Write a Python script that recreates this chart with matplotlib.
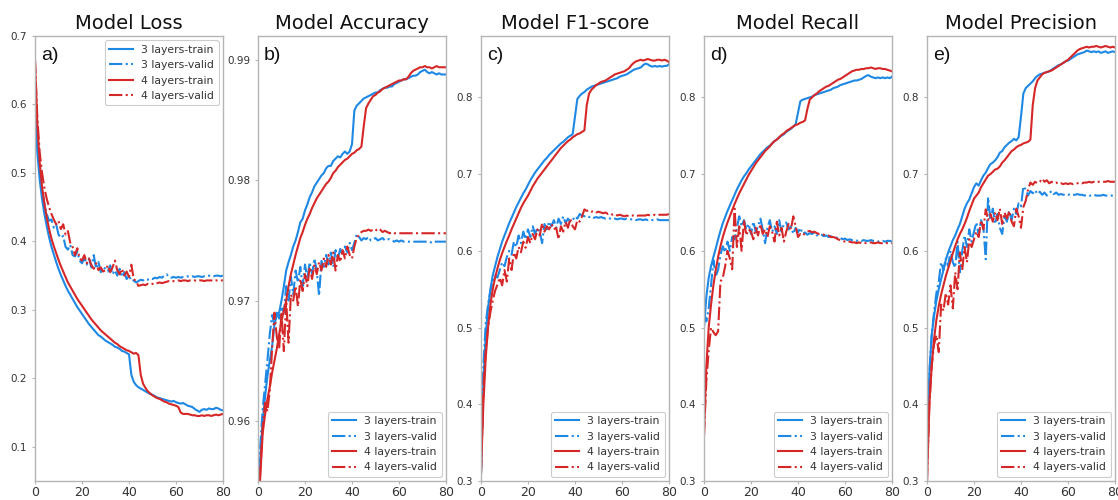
#!/usr/bin/env python3
# Krzywe uczenia: 3 vs 4 warstwy, train/valid, pięć metryk obok siebie

import matplotlib.pyplot as plt
import numpy as np


BLUE = "#1E88E5"
RED = "#D62728"
SPINE = "#b5b5b5"
TXT = "#333333"

EPOCHS = np.arange(81)

# --- a) loss ---
loss_3_train = [
    0.600, 0.530, 0.490, 0.462, 0.440, 0.422, 0.406, 0.392, 0.381, 0.370,
    0.360, 0.351, 0.343, 0.335, 0.328, 0.322, 0.316, 0.310, 0.304, 0.299,
    0.294, 0.289, 0.284, 0.279, 0.275, 0.271, 0.267, 0.263, 0.261, 0.258,
    0.255, 0.253, 0.251, 0.249, 0.246, 0.245, 0.243, 0.240, 0.239, 0.237,
    0.235, 0.205, 0.195, 0.190, 0.187, 0.185, 0.183, 0.181, 0.179, 0.177,
    0.176, 0.174, 0.172, 0.171, 0.170, 0.169, 0.168, 0.167, 0.166, 0.167,
    0.165, 0.164, 0.163, 0.164, 0.162, 0.160, 0.159, 0.158, 0.155, 0.153,
    0.151, 0.154, 0.155, 0.154, 0.156, 0.155, 0.155, 0.157, 0.156, 0.154,
    0.153,
]
loss_3_valid = [
    0.600, 0.540, 0.500, 0.475, 0.455, 0.440, 0.430, 0.432, 0.420, 0.425,
    0.410, 0.405, 0.408, 0.392, 0.388, 0.395, 0.380, 0.378, 0.385, 0.372,
    0.368, 0.376, 0.366, 0.375, 0.362, 0.380, 0.360, 0.370, 0.355, 0.362,
    0.360, 0.356, 0.365, 0.352, 0.358, 0.350, 0.360, 0.348, 0.355, 0.345,
    0.350, 0.342, 0.343, 0.340, 0.342, 0.344, 0.343, 0.345, 0.344, 0.346,
    0.345, 0.347, 0.346, 0.348, 0.347, 0.350, 0.352, 0.348, 0.347, 0.348,
    0.347, 0.348, 0.347, 0.348, 0.348, 0.349, 0.348, 0.349, 0.348, 0.349,
    0.349, 0.348, 0.349, 0.349, 0.350, 0.349, 0.349, 0.350, 0.350, 0.349,
    0.350,
]
loss_4_train = [
    0.665, 0.570, 0.515, 0.480, 0.455, 0.435, 0.418, 0.404, 0.393, 0.383,
    0.373, 0.364, 0.356, 0.348, 0.340, 0.334, 0.328, 0.322, 0.316, 0.311,
    0.306, 0.301, 0.296, 0.291, 0.286, 0.282, 0.278, 0.274, 0.270, 0.267,
    0.264, 0.261, 0.258, 0.255, 0.252, 0.250, 0.247, 0.245, 0.243, 0.241,
    0.240, 0.238, 0.236, 0.237, 0.234, 0.205, 0.192, 0.186, 0.181, 0.178,
    0.175, 0.173, 0.171, 0.170, 0.168, 0.166, 0.165, 0.163, 0.162, 0.161,
    0.160, 0.158, 0.150, 0.148, 0.148, 0.148, 0.147, 0.146, 0.146, 0.145,
    0.145, 0.146, 0.145, 0.146, 0.146, 0.145, 0.146, 0.147, 0.146, 0.147,
    0.148,
]
loss_4_valid = [
    0.665, 0.580, 0.530, 0.500, 0.478, 0.462, 0.450, 0.440, 0.432, 0.425,
    0.430, 0.418, 0.425, 0.410, 0.415, 0.398, 0.392, 0.380, 0.390, 0.375,
    0.372, 0.380, 0.368, 0.375, 0.365, 0.360, 0.368, 0.358, 0.362, 0.356,
    0.358, 0.365, 0.355, 0.362, 0.372, 0.358, 0.352, 0.360, 0.350, 0.356,
    0.348, 0.366, 0.345, 0.342, 0.335, 0.336, 0.337, 0.336, 0.338, 0.337,
    0.338, 0.337, 0.339, 0.340, 0.339, 0.340, 0.341, 0.342, 0.341, 0.342,
    0.342, 0.343, 0.342, 0.343, 0.343, 0.342, 0.343, 0.343, 0.343, 0.342,
    0.343, 0.343, 0.342, 0.343, 0.343, 0.343, 0.342, 0.343, 0.343, 0.343,
    0.343,
]

# --- b) accuracy ---
acc_3_train = [
    0.9530, 0.9570, 0.9600, 0.9620, 0.9637, 0.9650, 0.9662, 0.9680, 0.9688, 0.9690,
    0.9700, 0.9712, 0.9725, 0.9732, 0.9738, 0.9745, 0.9750, 0.9757, 0.9765, 0.9768,
    0.9775, 0.9780, 0.9786, 0.9790, 0.9795, 0.9798, 0.9801, 0.9804, 0.9806, 0.9810,
    0.9812, 0.9812, 0.9816, 0.9818, 0.9820, 0.9819, 0.9822, 0.9824, 0.9822, 0.9824,
    0.9830, 0.9858, 0.9862, 0.9864, 0.9866, 0.9868, 0.9869, 0.9870, 0.9871, 0.9872,
    0.9873, 0.9873, 0.9875, 0.9876, 0.9877, 0.9877, 0.9878, 0.9878, 0.9880, 0.9881,
    0.9882, 0.9883, 0.9884, 0.9884, 0.9885, 0.9886, 0.9887, 0.9887, 0.9888, 0.9890,
    0.9891, 0.9892, 0.9890, 0.9889, 0.9890, 0.9889, 0.9888, 0.9889, 0.9888, 0.9888,
    0.9888,
]
acc_3_valid = [
    0.9540, 0.9580, 0.9610, 0.9630, 0.9650, 0.9672, 0.9688, 0.9680, 0.9690, 0.9685,
    0.9695, 0.9690, 0.9712, 0.9700, 0.9720, 0.9705, 0.9725, 0.9715, 0.9728, 0.9712,
    0.9730, 0.9718, 0.9732, 0.9722, 0.9735, 0.9725, 0.9704, 0.9733, 0.9728, 0.9738,
    0.9730, 0.9740, 0.9728, 0.9742, 0.9735, 0.9743, 0.9738, 0.9745, 0.9740, 0.9748,
    0.9742, 0.9748, 0.9755, 0.9753, 0.9750, 0.9752, 0.9751, 0.9753, 0.9750, 0.9751,
    0.9752, 0.9750, 0.9751, 0.9752, 0.9750, 0.9751, 0.9751, 0.9750, 0.9749, 0.9750,
    0.9749, 0.9750, 0.9749, 0.9749, 0.9749, 0.9749, 0.9749, 0.9749, 0.9749, 0.9749,
    0.9749, 0.9749, 0.9749, 0.9749, 0.9748, 0.9749, 0.9749, 0.9749, 0.9749, 0.9749,
    0.9749,
]
acc_4_train = [
    0.9520, 0.9555, 0.9590, 0.9605, 0.9618, 0.9628, 0.9640, 0.9650, 0.9660, 0.9672,
    0.9683, 0.9692, 0.9700, 0.9712, 0.9722, 0.9730, 0.9738, 0.9745, 0.9752, 0.9757,
    0.9763, 0.9768, 0.9772, 0.9777, 0.9781, 0.9785, 0.9788, 0.9791, 0.9794, 0.9797,
    0.9799, 0.9802, 0.9806, 0.9808, 0.9811, 0.9813, 0.9815, 0.9817, 0.9818, 0.9820,
    0.9822, 0.9823, 0.9825, 0.9826, 0.9828, 0.9845, 0.9860, 0.9864, 0.9867, 0.9870,
    0.9871, 0.9873, 0.9874, 0.9876, 0.9877, 0.9878, 0.9879, 0.9880, 0.9881, 0.9882,
    0.9883, 0.9883, 0.9884, 0.9884, 0.9886, 0.9889, 0.9891, 0.9892, 0.9893, 0.9894,
    0.9894, 0.9895, 0.9894, 0.9894, 0.9893, 0.9894, 0.9895, 0.9894, 0.9894, 0.9894,
    0.9894,
]
acc_4_valid = [
    0.9520, 0.9560, 0.9595, 0.9615, 0.9608, 0.9625, 0.9660, 0.9690, 0.9670, 0.9660,
    0.9690, 0.9658, 0.9700, 0.9665, 0.9705, 0.9700, 0.9712, 0.9695, 0.9718, 0.9708,
    0.9722, 0.9712, 0.9728, 0.9718, 0.9730, 0.9722, 0.9732, 0.9725, 0.9735, 0.9728,
    0.9738, 0.9730, 0.9740, 0.9725, 0.9738, 0.9732, 0.9742, 0.9735, 0.9745, 0.9738,
    0.9735, 0.9745, 0.9752, 0.9755, 0.9757, 0.9758, 0.9758, 0.9759, 0.9758, 0.9759,
    0.9758, 0.9760, 0.9759, 0.9757, 0.9758, 0.9757, 0.9756, 0.9757, 0.9756, 0.9756,
    0.9756, 0.9756, 0.9756, 0.9756, 0.9756, 0.9756, 0.9756, 0.9756, 0.9756, 0.9756,
    0.9756, 0.9756, 0.9756, 0.9756, 0.9756, 0.9756, 0.9756, 0.9756, 0.9756, 0.9756,
    0.9756,
]

# --- c) F1-score ---
f1_3_train = [
    0.310, 0.430, 0.490, 0.525, 0.550, 0.568, 0.580, 0.592, 0.602, 0.612,
    0.620, 0.628, 0.636, 0.643, 0.650, 0.657, 0.663, 0.669, 0.675, 0.680,
    0.686, 0.692, 0.697, 0.702, 0.706, 0.710, 0.714, 0.718, 0.721, 0.725,
    0.728, 0.731, 0.734, 0.737, 0.740, 0.742, 0.745, 0.748, 0.750, 0.752,
    0.775, 0.798, 0.802, 0.805, 0.807, 0.810, 0.812, 0.814, 0.815, 0.816,
    0.817, 0.818, 0.819, 0.820, 0.821, 0.822, 0.823, 0.824, 0.825, 0.827,
    0.828, 0.829, 0.830, 0.832, 0.834, 0.836, 0.837, 0.838, 0.839, 0.842,
    0.844, 0.843, 0.841, 0.840, 0.841, 0.840, 0.841, 0.840, 0.841, 0.841,
    0.843,
]
f1_3_valid = [
    0.310, 0.450, 0.505, 0.530, 0.548, 0.560, 0.568, 0.565, 0.575, 0.585,
    0.580, 0.592, 0.600, 0.595, 0.612, 0.605, 0.620, 0.610, 0.625, 0.615,
    0.628, 0.618, 0.632, 0.622, 0.630, 0.625, 0.610, 0.635, 0.628, 0.638,
    0.632, 0.640, 0.630, 0.642, 0.635, 0.645, 0.636, 0.642, 0.638, 0.640,
    0.645, 0.642, 0.648, 0.646, 0.645, 0.646, 0.644, 0.645, 0.643, 0.644,
    0.643, 0.644, 0.643, 0.642, 0.643, 0.642, 0.643, 0.642, 0.641, 0.642,
    0.642, 0.641, 0.642, 0.641, 0.641, 0.641, 0.640, 0.641, 0.641, 0.640,
    0.641, 0.640, 0.641, 0.640, 0.640, 0.641, 0.640, 0.640, 0.640, 0.640,
    0.640,
]
f1_4_train = [
    0.310, 0.400, 0.460, 0.500, 0.530, 0.550, 0.565, 0.577, 0.588, 0.597,
    0.605, 0.613, 0.620, 0.628, 0.635, 0.642, 0.649, 0.656, 0.662, 0.667,
    0.672, 0.678, 0.684, 0.689, 0.694, 0.698, 0.702, 0.706, 0.710, 0.714,
    0.718, 0.722, 0.726, 0.730, 0.734, 0.737, 0.740, 0.743, 0.745, 0.748,
    0.750, 0.752, 0.753, 0.755, 0.757, 0.790, 0.805, 0.810, 0.813, 0.816,
    0.818, 0.820, 0.821, 0.822, 0.824, 0.826, 0.828, 0.830, 0.831, 0.832,
    0.833, 0.834, 0.836, 0.838, 0.842, 0.845, 0.847, 0.848, 0.849, 0.848,
    0.849, 0.850, 0.849, 0.848, 0.848, 0.849, 0.849, 0.848, 0.849, 0.848,
    0.846,
]
f1_4_valid = [
    0.310, 0.420, 0.470, 0.500, 0.520, 0.535, 0.548, 0.556, 0.565, 0.555,
    0.575, 0.560, 0.590, 0.575, 0.598, 0.590, 0.605, 0.598, 0.612, 0.604,
    0.618, 0.610, 0.622, 0.615, 0.628, 0.620, 0.636, 0.625, 0.632, 0.628,
    0.635, 0.628, 0.630, 0.615, 0.632, 0.625, 0.638, 0.630, 0.642, 0.632,
    0.628, 0.640, 0.638, 0.645, 0.654, 0.652, 0.653, 0.651, 0.652, 0.650,
    0.651, 0.650, 0.649, 0.650, 0.648, 0.649, 0.647, 0.648, 0.646, 0.647,
    0.646, 0.645, 0.646, 0.645, 0.646, 0.646, 0.645, 0.646, 0.646, 0.646,
    0.646, 0.647, 0.646, 0.646, 0.647, 0.646, 0.647, 0.647, 0.647, 0.647,
    0.648,
]

# --- d) recall ---
rec_3_train = [
    0.500, 0.540, 0.565, 0.580, 0.592, 0.603, 0.615, 0.626, 0.636, 0.644,
    0.652, 0.659, 0.666, 0.673, 0.680, 0.686, 0.692, 0.697, 0.701, 0.706,
    0.710, 0.714, 0.718, 0.722, 0.726, 0.729, 0.732, 0.735, 0.737, 0.740,
    0.743, 0.745, 0.748, 0.750, 0.752, 0.755, 0.757, 0.759, 0.762, 0.765,
    0.780, 0.795, 0.797, 0.798, 0.799, 0.800, 0.801, 0.803, 0.804, 0.805,
    0.806, 0.807, 0.808, 0.809, 0.810, 0.812, 0.813, 0.814, 0.816, 0.817,
    0.818, 0.819, 0.820, 0.821, 0.822, 0.822, 0.823, 0.824, 0.826, 0.828,
    0.829, 0.827, 0.826, 0.825, 0.826, 0.825, 0.826, 0.825, 0.826, 0.825,
    0.827,
]
rec_3_valid = [
    0.520, 0.508, 0.525, 0.555, 0.588, 0.567, 0.575, 0.595, 0.606, 0.598,
    0.612, 0.600, 0.618, 0.615, 0.630, 0.645, 0.632, 0.640, 0.628, 0.635,
    0.622, 0.638, 0.625, 0.632, 0.642, 0.628, 0.610, 0.630, 0.640, 0.625,
    0.632, 0.622, 0.640, 0.625, 0.635, 0.637, 0.628, 0.632, 0.622, 0.630,
    0.624, 0.630, 0.622, 0.624, 0.621, 0.623, 0.622, 0.624, 0.620, 0.622,
    0.621, 0.619, 0.620, 0.618, 0.619, 0.617, 0.618, 0.616, 0.617, 0.615,
    0.616, 0.614, 0.615, 0.614, 0.614, 0.613, 0.614, 0.613, 0.614, 0.613,
    0.613, 0.614, 0.613, 0.613, 0.612, 0.613, 0.613, 0.612, 0.613, 0.613,
    0.612,
]
rec_4_train = [
    0.360, 0.450, 0.500, 0.530, 0.555, 0.575, 0.592, 0.606, 0.618, 0.628,
    0.637, 0.645, 0.653, 0.661, 0.668, 0.675, 0.681, 0.687, 0.693, 0.699,
    0.704, 0.709, 0.714, 0.718, 0.722, 0.726, 0.730, 0.733, 0.736, 0.740,
    0.743, 0.745, 0.748, 0.751, 0.753, 0.756, 0.758, 0.760, 0.762, 0.764,
    0.765, 0.767, 0.768, 0.770, 0.785, 0.797, 0.800, 0.803, 0.805, 0.808,
    0.810, 0.812, 0.814, 0.815, 0.817, 0.819, 0.821, 0.823, 0.824, 0.826,
    0.828, 0.830, 0.832, 0.834, 0.835, 0.836, 0.836, 0.837, 0.837, 0.838,
    0.838, 0.839, 0.838, 0.837, 0.838, 0.838, 0.837, 0.837, 0.836, 0.835,
    0.834,
]
rec_4_valid = [
    0.360, 0.430, 0.470, 0.500, 0.494, 0.490, 0.495, 0.560, 0.565, 0.580,
    0.600, 0.590, 0.576, 0.655, 0.605, 0.632, 0.600, 0.640, 0.620, 0.628,
    0.625, 0.615, 0.630, 0.620, 0.635, 0.622, 0.628, 0.618, 0.632, 0.625,
    0.612, 0.638, 0.620, 0.630, 0.612, 0.625, 0.635, 0.628, 0.645, 0.632,
    0.618, 0.622, 0.620, 0.623, 0.625, 0.626, 0.624, 0.625, 0.623, 0.622,
    0.622, 0.621, 0.620, 0.620, 0.618, 0.618, 0.617, 0.615, 0.614, 0.613,
    0.612, 0.611, 0.612, 0.611, 0.611, 0.610, 0.611, 0.610, 0.611, 0.610,
    0.610, 0.611, 0.610, 0.610, 0.611, 0.610, 0.610, 0.611, 0.610, 0.610,
    0.610,
]

# --- e) precision ---
prec_3_train = [
    0.330, 0.440, 0.490, 0.515, 0.535, 0.550, 0.563, 0.575, 0.588, 0.598,
    0.606, 0.614, 0.620, 0.628, 0.635, 0.645, 0.655, 0.662, 0.667, 0.675,
    0.683, 0.688, 0.685, 0.692, 0.698, 0.702, 0.708, 0.713, 0.715, 0.718,
    0.722, 0.728, 0.730, 0.735, 0.738, 0.741, 0.743, 0.746, 0.744, 0.748,
    0.775, 0.805, 0.812, 0.815, 0.818, 0.821, 0.825, 0.828, 0.830, 0.831,
    0.832, 0.833, 0.834, 0.836, 0.838, 0.840, 0.842, 0.843, 0.845, 0.847,
    0.848, 0.850, 0.852, 0.854, 0.856, 0.857, 0.858, 0.859, 0.861, 0.860,
    0.859, 0.860, 0.859, 0.860, 0.858, 0.859, 0.860, 0.858, 0.859, 0.860,
    0.859,
]
prec_3_valid = [
    0.330, 0.440, 0.490, 0.520, 0.545, 0.560, 0.585, 0.575, 0.590, 0.580,
    0.600, 0.585, 0.578, 0.612, 0.572, 0.600, 0.620, 0.605, 0.628, 0.612,
    0.625, 0.637, 0.620, 0.640, 0.630, 0.589, 0.670, 0.640, 0.655, 0.635,
    0.648, 0.630, 0.622, 0.645, 0.638, 0.652, 0.640, 0.655, 0.648, 0.662,
    0.658, 0.684, 0.680, 0.672, 0.678, 0.675, 0.679, 0.674, 0.677, 0.673,
    0.676, 0.672, 0.675, 0.678, 0.674, 0.676, 0.673, 0.674, 0.673, 0.674,
    0.673, 0.674, 0.673, 0.673, 0.674, 0.673, 0.673, 0.672, 0.673, 0.672,
    0.672, 0.673, 0.672, 0.672, 0.672, 0.673, 0.672, 0.672, 0.672, 0.672,
    0.672,
]
prec_4_train = [
    0.300, 0.400, 0.450, 0.485, 0.510, 0.528, 0.543, 0.555, 0.567, 0.577,
    0.587, 0.597, 0.606, 0.615, 0.622, 0.628, 0.635, 0.643, 0.652, 0.660,
    0.668, 0.672, 0.676, 0.683, 0.688, 0.693, 0.698, 0.700, 0.703, 0.706,
    0.707, 0.710, 0.715, 0.718, 0.722, 0.726, 0.730, 0.732, 0.735, 0.737,
    0.738, 0.740, 0.741, 0.742, 0.745, 0.790, 0.812, 0.822, 0.826, 0.830,
    0.832, 0.833, 0.834, 0.835, 0.837, 0.839, 0.841, 0.843, 0.845, 0.847,
    0.849, 0.852, 0.855, 0.858, 0.861, 0.863, 0.864, 0.865, 0.866, 0.865,
    0.866, 0.866, 0.867, 0.866, 0.865, 0.866, 0.867, 0.866, 0.865, 0.866,
    0.865,
]
prec_4_valid = [
    0.300, 0.400, 0.450, 0.478, 0.490, 0.468, 0.530, 0.522, 0.545, 0.530,
    0.555, 0.525, 0.572, 0.550, 0.598, 0.575, 0.605, 0.585, 0.615, 0.605,
    0.615, 0.625, 0.618, 0.640, 0.628, 0.654, 0.640, 0.648, 0.638, 0.650,
    0.640, 0.655, 0.635, 0.650, 0.642, 0.652, 0.638, 0.632, 0.655, 0.645,
    0.630, 0.657, 0.665, 0.680, 0.689, 0.686, 0.690, 0.688, 0.690, 0.694,
    0.690, 0.692, 0.688, 0.690, 0.688, 0.689, 0.687, 0.688, 0.687, 0.688,
    0.687, 0.688, 0.687, 0.688, 0.688, 0.689, 0.688, 0.689, 0.689, 0.690,
    0.689, 0.690, 0.689, 0.690, 0.690, 0.690, 0.690, 0.691, 0.690, 0.690,
    0.690,
]

PANELS = [
    ("Model Loss", "a)", (loss_3_train, loss_3_valid, loss_4_train, loss_4_valid),
     (0.05, 0.70), [0.1, 0.2, 0.3, 0.4, 0.5, 0.6, 0.7], "upper right"),
    ("Model Accuracy", "b)", (acc_3_train, acc_3_valid, acc_4_train, acc_4_valid),
     (0.955, 0.992), [0.96, 0.97, 0.98, 0.99], "lower right"),
    ("Model F1-score", "c)", (f1_3_train, f1_3_valid, f1_4_train, f1_4_valid),
     (0.30, 0.88), [0.3, 0.4, 0.5, 0.6, 0.7, 0.8], "lower right"),
    ("Model Recall", "d)", (rec_3_train, rec_3_valid, rec_4_train, rec_4_valid),
     (0.30, 0.88), [0.3, 0.4, 0.5, 0.6, 0.7, 0.8], "lower right"),
    ("Model Precision", "e)", (prec_3_train, prec_3_valid, prec_4_train, prec_4_valid),
     (0.30, 0.88), [0.3, 0.4, 0.5, 0.6, 0.7, 0.8], "lower right"),
]

LABELS = ["3 layers-train", "3 layers-valid", "4 layers-train", "4 layers-valid"]
STYLES = [(BLUE, "-"), (BLUE, "-."), (RED, "-"), (RED, "-.")]

# pozycje osi w pikselach (lewa krawędź), szerokość wspólna
AX_LEFT_PX = [35, 258, 481, 704, 927]
AX_W_PX = 188
FIG_W, FIG_H = 1118, 500


def draw_panel(ax, title, tag, series, ylim, yticks, legend_loc):
    for values, label, (color, ls) in zip(series, LABELS, STYLES):
        ax.plot(EPOCHS, values, color=color, ls=ls, lw=1.5, label=label)

    ax.set_xlim(0, 80)
    ax.set_ylim(*ylim)
    ax.set_xticks([0, 20, 40, 60, 80])
    ax.set_yticks(yticks)
    ax.tick_params(axis="x", labelsize=9, colors=TXT, length=2, pad=1.5, color=SPINE)
    ax.tick_params(axis="y", labelsize=7.5, colors=TXT, length=2, color=SPINE)
    for sp in ax.spines.values():
        sp.set_color(SPINE)
        sp.set_linewidth(1.0)

    ax.set_title(title, fontsize=14, color="#111111", pad=5)
    ax.text(0.03, 0.975, tag, transform=ax.transAxes, ha="left", va="top",
            fontsize=14, family="Liberation Sans", color="#111111")

    leg = ax.legend(loc=legend_loc, fontsize=7.8, framealpha=1.0,
                    borderaxespad=0.4, handlelength=2.2)
    leg.get_frame().set_edgecolor("#cccccc")
    leg.get_frame().set_linewidth(0.8)
    for t in leg.get_texts():
        t.set_color(TXT)


def main():
    fig = plt.figure(figsize=(FIG_W / 100, FIG_H / 100), dpi=100)
    fig.patch.set_facecolor("white")
    bottom = 19 / FIG_H
    height = 445 / FIG_H
    for left_px, panel in zip(AX_LEFT_PX, PANELS):
        ax = fig.add_axes([left_px / FIG_W, bottom, AX_W_PX / FIG_W, height])
        draw_panel(ax, *panel)
    fig.savefig("out.png", dpi=100, facecolor="white")
    plt.close(fig)


if __name__ == "__main__":
    main()
